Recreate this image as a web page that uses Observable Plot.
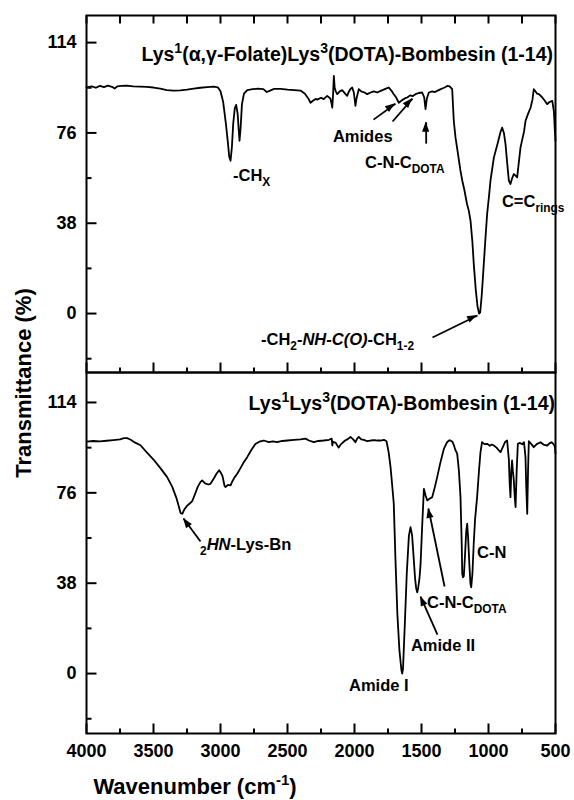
<!DOCTYPE html>
<html><head><meta charset="utf-8">
<script src="https://cdn.jsdelivr.net/npm/d3@7"></script>
<script src="https://cdn.jsdelivr.net/npm/@observablehq/plot@0.6"></script>
<style>
body{margin:0;background:#fff;}
#chart{position:relative;width:574px;height:800px;}
#chart svg{position:absolute;left:0;overflow:visible;}
</style></head><body><div id="chart"></div>
<script>
const FONT = '"Liberation Sans", Arial, Helvetica, sans-serif';

// ---- Top spectrum: Lys1(α,γ-Folate)Lys3(DOTA)-Bombesin (1-14)
const topWavenumber = [4000,3960,3930,3900,3870,3840,3810,3790,3770,3740,3700,3650,3600,3550,3500,3450,3400,3350,3300,3250,3200,3150,3100,3050,3020,3000,2980,2960,2945,2935,2925,2915,2905,2893,2883,2872,2865,2858,2850,2840,2825,2800,2760,2720,2680,2655,2630,2600,2550,2500,2450,2403,2370,2345,2328,2310,2290,2278,2250,2230,2204,2180,2170,2166,2160,2154,2148,2140,2129,2110,2092,2070,2055,2043,2030,2017,2005,1993,1985,1968,1950,1925,1905,1880,1855,1831,1800,1770,1744,1725,1707,1690,1669,1645,1625,1607,1585,1565,1545,1520,1495,1480,1470,1460,1445,1420,1400,1383,1360,1340,1320,1308,1290,1271,1259,1246,1230,1209,1196,1180,1160,1147,1134,1120,1110,1095,1082,1070,1062,1050,1035,1020,1010,995,985,960,930,910,898,885,873,860,848,836,823,811,798,786,775,761,745,735,724,705,686,672,662,650,637,624,600,580,562,545,524,512,505,500];
const topTransmittance = [95.2,95.6,95.0,95.8,95.3,95.9,95.4,94.7,95.6,95.8,95.9,95.6,95.5,95.4,95.1,94.6,94.0,93.8,93.9,94.2,94.6,95.0,95.3,95.5,95.2,93.5,89,80,72,66,64.3,70,80,86.5,87.8,84,78,72.7,78,88,92.5,94,94.4,94.6,94.4,93.2,93.8,94.5,94.5,94.2,94.0,93.8,92.5,90.5,88.7,89.5,90.3,90,90.8,90.2,91.6,90.5,88,86.6,92,100,95,93.5,92.3,93.5,94.0,92.5,91.6,93.3,94.5,95.1,93,87.4,90.5,94.4,93.5,93.0,92.3,93.0,93.5,93.0,93.8,94.5,95.1,93.8,92.3,91.0,88.7,89.8,90.5,90.9,91.8,91.5,92.3,92.8,93.0,91,86,90.5,93,93.5,93.2,93.7,94.3,94.8,95.3,95.8,95.6,94.4,81,74,68,60,56,52,46,43.3,39,30,21,10,3,0,0.5,8,21,34,42,50,56,65.6,72,76.5,78.2,76,71.3,63,55.9,54.5,57,58.7,58,57.3,63,69.9,74,76.5,81,84,86.6,90,94.4,93.5,92.5,92.3,91,89.5,88.1,89,89.5,85,77,72.7];

// ---- Bottom spectrum: Lys1Lys3(DOTA)-Bombesin (1-14)
const bottomWavenumber = [4000,3950,3900,3850,3800,3750,3720,3696,3670,3640,3597,3550,3500,3450,3398,3360,3330,3310,3298,3285,3270,3250,3230,3211,3190,3170,3150,3137,3115,3090,3075,3050,3030,3010,3000,2985,2970,2963,2945,2925,2910,2895,2875,2850,2830,2801,2770,2740,2710,2677,2640,2610,2577,2540,2500,2450,2403,2366,2340,2304,2270,2230,2190,2170,2166,2160,2140,2119,2100,2070,2050,2030,2010,1993,1980,1968,1950,1930,1905,1880,1850,1830,1806,1780,1761,1745,1731,1720,1707,1694,1680,1665,1650,1644,1638,1625,1610,1594,1582,1570,1560,1548,1540,1532,1525,1515,1507,1495,1482,1470,1457,1440,1420,1400,1383,1360,1333,1310,1296,1284,1270,1260,1246,1234,1221,1209,1200,1196,1190,1184,1175,1166,1159,1152,1142,1135,1129,1120,1110,1100,1085,1070,1060,1048,1030,1010,990,975,960,940,925,910,895,875,861,848,842,836,830,824,818,811,805,798,790,781,765,748,735,724,718,711,705,699,680,662,640,612,590,562,545,530,515,505,500];
const bottomTransmittance = [97.5,97.8,97.6,97.9,98.2,98.5,99,99,98.3,97.2,96,93,90,86.5,82.6,78.5,74,70,67.5,67.2,69,70.5,71.5,72.5,75.5,78.5,80.5,81.2,80,79.5,79.8,82,84,85.5,84.7,83,79,78.4,79.3,79.1,81,82.5,84,86.5,88.5,91,94,96.5,97.5,98,97.3,97.6,97.3,97.8,98,98.3,98.5,98.8,98,97.3,97.8,98,98.3,98.8,95.9,97.5,97,95,96.5,98,98.6,99.5,98.5,97.3,98.8,99.5,98.5,98.3,97.7,98,98.2,98.0,98,98.3,97.7,93,86.8,80,71.5,47.5,25,10,1.5,0,2,20,42,58,61.6,58,50,40,36,34.2,36,40,46,62,77.7,75,72.8,73.5,74.2,78.5,82.6,88.5,94.5,97.2,98,98,97.5,96.3,93.8,92.6,85.4,74.2,55,42,40.5,41,50,60,63,57,45,38,36.3,42,55,65,74.2,86,93,97.3,96.5,96.6,95.8,96.3,95.9,95,94,93.1,95,97.5,98,90,80,74.2,85,89.6,85,81.2,75,70,85,96.6,97,96.4,97.3,91,78,67.2,85,97.7,96.5,95.2,96.5,97.3,96.3,95.9,96.8,97.3,96.5,95.5,92.6];

// ---- Axis ticks
const xMajorTicks = [4000,3500,3000,2500,2000,1500,1000,500];
const xMinorTicks = [3750,3250,2750,2250,1750,1250,750];
const yMajorTicks = [0,38,76,114];
const yMinorTicks = [-19,19,57,95];

// ---- Panel titles (text parts)
const topTitle = [{t:"Lys"},{t:"1",sup:true},{t:"(α,γ-Folate)Lys"},{t:"3",sup:true},{t:"(DOTA)-Bombesin (1-14)"}];
const bottomTitle = [{t:"Lys"},{t:"1",sup:true},{t:"Lys"},{t:"3",sup:true},{t:"(DOTA)-Bombesin (1-14)"}];

// ---- Annotations (anchored in data units: wavenumber, transmittance)
const topLabels = [
  {w:2903, v:55.5, parts:[{t:"-CH"},{t:"X",sub:true}]},
  {w:2157, v:71.9, parts:[{t:"Amides"}]},
  {w:1918, v:61, parts:[{t:"C-N-C"},{t:"DOTA",sub:true}]},
  {w:896, v:44.7, parts:[{t:"C=C"},{t:"rings",sub:true}]},
  {w:2694, v:-13.5, parts:[{t:"-CH"},{t:"2",sub:true},{t:"-"},{t:"NH-C(O)",it:true},{t:"-CH"},{t:"1-2",sub:true}]}
];
const topArrows = [
  {w1:1858, v1:81.6, w2:1694, v2:88.3},
  {w1:1716, v1:80.8, w2:1567, v2:90.4},
  {w1:1465, v1:71.5, w2:1465, v2:80.5},
  {w1:1418, v1:-10.1, w2:1082, v2:-0.8}
];
const bottomLabels = [
  {w:3149, v:51.7, parts:[{t:"2",sub:true},{t:"HN",it:true},{t:"-Lys-Bn"}]},
  {w:1082, v:48.4, parts:[{t:"C-N"}]},
  {w:1455, v:27.3, parts:[{t:"C-N-C"},{t:"DOTA",sub:true}]},
  {w:1575, v:9.3, parts:[{t:"Amide II"}]},
  {w:2037, v:-7.6, parts:[{t:"Amide I"}]}
];
const bottomArrows = [
  {w1:3149, v1:55.5, w2:3276, v2:65.2},
  {w1:1381, v1:16.4, w2:1507, v2:32.4},
  {w1:1328, v1:36.6, w2:1448, v2:69.4}
];

function addText(svg, plot, x, y, parts, {anchor="start", size=17}={}) {
  const X = plot.scale("x").apply(x), Y = plot.scale("y").apply(y);
  const t = d3.select(svg).append("text").attr("x", X).attr("y", Y).attr("text-anchor", anchor)
    .attr("font-family", FONT).attr("font-weight", "bold").attr("font-size", size).attr("fill", "black");
  let shift = 0;
  for (const p of parts) {
    const target = p.sub ? size*0.32 : p.sup ? -size*0.42 : 0;
    const ts = t.append("tspan").text(p.t).attr("dy", target - shift);
    if (p.sub || p.sup) ts.attr("font-size", size*0.72);
    if (p.it) ts.attr("font-style", "italic");
    shift = target;
  }
}

function addHeads(plot, arrows) {
  const sx = plot.scale("x"), sy = plot.scale("y");
  const L = 10, H = 3.6;
  for (const a of arrows) {
    const x1 = sx.apply(a.w1), y1 = sy.apply(a.v1), x2 = sx.apply(a.w2), y2 = sy.apply(a.v2);
    const len = Math.hypot(x2 - x1, y2 - y1), ux = (x2 - x1) / len, uy = (y2 - y1) / len;
    const bx = x2 - ux * L, by = y2 - uy * L;
    const pts = [[x2, y2], [bx - uy * H, by + ux * H], [bx + uy * H, by - ux * H]];
    d3.select(plot).append("polygon").attr("points", pts.map(p => p.join(",")).join(" ")).attr("fill", "black");
  }
}

// inward tick segments expressed in data units (tick length in px converted via the panel's scale factor)
function tickSegments(yDomain, innerH, withTop) {
  const kY = innerH / (yDomain[1] - yDomain[0]);   // px per transmittance unit
  const kX = (574 - 86 - 19) / 3500;                // px per wavenumber unit
  const [y0, y1] = yDomain, x0 = 4000;
  const segs = [];
  for (const v of yMajorTicks) segs.push({x1: x0, x2: x0 - 10 / kX, y1: v, y2: v});
  for (const v of yMinorTicks) segs.push({x1: x0, x2: x0 - 5 / kX, y1: v, y2: v});
  for (const v of xMajorTicks) segs.push({x1: v, x2: v, y1: y0, y2: y0 + 10 / kY});
  for (const v of xMinorTicks) segs.push({x1: v, x2: v, y1: y0, y2: y0 + 5 / kY});
  if (withTop) for (const v of [...xMajorTicks, ...xMinorTicks]) segs.push({x1: v, x2: v, y1: y1, y2: y1 - 8 / kY});
  return segs;
}

function panel({wn, tr, height, marginTop, marginBottom, yDomain, xLabels, topTicks, title, labels, arrows}) {
  const data = wn.map((w, i) => ({w, t: tr[i]}));
  const innerH = height - marginTop - marginBottom;
  const marks = [
    Plot.line(data, {x: "w", y: "t", stroke: "black", strokeWidth: 1.8}),
    Plot.link(arrows, {x1: "w1", y1: "v1", x2: "w2", y2: "v2", stroke: "black", strokeWidth: 1.8}),
    Plot.link(tickSegments(yDomain, innerH, topTicks), {x1: "x1", y1: "y1", x2: "x2", y2: "y2", stroke: "black", strokeWidth: 2}),
    Plot.axisY({ticks: yMajorTicks, tickSize: 0, tickPadding: 10, label: null, tickFormat: d => String(d)}),
    Plot.frame({stroke: "black", strokeWidth: 2})
  ];
  if (xLabels) marks.push(Plot.axisX({ticks: xMajorTicks, tickSize: 0, tickPadding: 11, label: null, tickFormat: d => String(d)}));
  else marks.push(Plot.axisX({ticks: [], label: null}));
  const plot = Plot.plot({
    width: 574, height, marginLeft: 86, marginRight: 19, marginTop, marginBottom,
    x: {domain: [4000, 500], label: null},
    y: {domain: yDomain, label: null},
    style: {background: "transparent", overflow: "visible", fontFamily: FONT, fontSize: "18px", fontWeight: "bold", color: "black"},
    marks
  });
  addHeads(plot, arrows);
  addText(plot, plot, title.w, title.v, title.parts, {anchor: "end", size: 19.5});
  for (const l of labels) addText(plot, plot, l.w, l.v, l.parts, {size: 16.5});
  return plot;
}

const chart = document.getElementById("chart");
const topPlot = panel({wn: topWavenumber, tr: topTransmittance, height: 372, marginTop: 15, marginBottom: 0,
  yDomain: [-24.8, 125.4], xLabels: false, topTicks: true,
  title: {w: 515, v: 106, parts: topTitle}, labels: topLabels, arrows: topArrows});
topPlot.style.top = "0px";
chart.appendChild(topPlot);

const bottomPlot = panel({wn: bottomWavenumber, tr: bottomTransmittance, height: 428, marginTop: 0, marginBottom: 67,
  yDomain: [-25.2, 126.6], xLabels: true, topTicks: false,
  title: {w: 500, v: 110.6, parts: bottomTitle}, labels: bottomLabels, arrows: bottomArrows});
bottomPlot.style.top = "372px";
chart.appendChild(bottomPlot);

// axis titles, drawn into the panels' own SVGs
const xt = d3.select(bottomPlot).append("text").attr("x", 195).attr("y", 794 - 372)
  .attr("font-family", FONT).attr("font-weight", "bold").attr("font-size", 22).attr("fill", "black");
xt.append("tspan").text("Wavenumber (cm");
xt.append("tspan").text("-1").attr("font-size", 15).attr("dy", -9);
xt.append("tspan").text(")").attr("dy", 9);
d3.select(topPlot).append("text").attr("transform", "translate(31,383) rotate(-90)").attr("text-anchor", "middle")
  .attr("font-family", FONT).attr("font-weight", "bold").attr("font-size", 22).attr("fill", "black").text("Transmittance (%)");
</script></body></html>
